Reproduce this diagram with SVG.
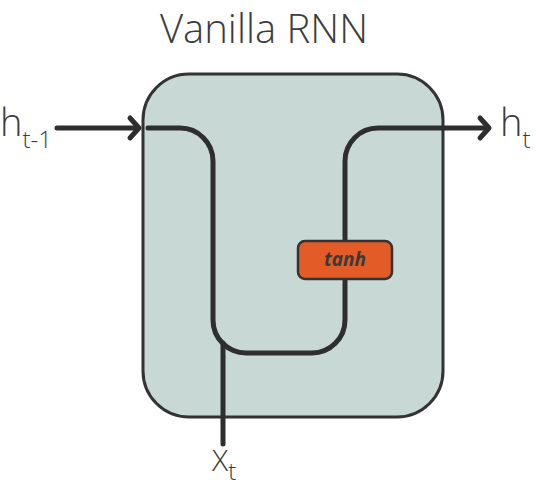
<svg xmlns="http://www.w3.org/2000/svg" width="536" height="489" viewBox="0 0 536 489">
<style>
.t{font-family:"Open Sans","Liberation Sans",sans-serif;font-weight:300;fill:#3c3c3c}
.ln{fill:none;stroke:#2e2e2e;stroke-width:5;stroke-linecap:round;stroke-linejoin:round}
</style>
<rect width="536" height="489" fill="#fff"/>
<text class="t" x="264" y="43" font-size="40" text-anchor="middle">Vanilla RNN</text>
<g id="cell">
<rect x="143" y="74" width="300" height="343" rx="46" ry="46" fill="#c8d9d5" stroke="#333" stroke-width="3"/>
</g>
<g id="connectors">
<line x1="57" y1="128" x2="136" y2="128" class="ln"/>
<path d="M130,118 L139,128 L130,138" class="ln"/>
<path d="M148,128 H180 A33,33 0 0 1 213,161 V320 A33,33 0 0 0 246,353 H312 A33,33 0 0 0 345,320 V161 A33,33 0 0 1 378,128 H486" class="ln"/>
<path d="M480,118 L489,128 L480,138" class="ln"/>
<path d="M223,343 V444" class="ln" stroke-width="4"/>
</g>
<g id="tanh">
<rect x="298" y="241" width="94" height="38" rx="7" fill="#e35b26" stroke="#333" stroke-width="2.5"/>
<text x="345" y="266" font-family="'Open Sans','Liberation Sans',sans-serif" font-size="19" font-style="italic" font-weight="700" fill="#3a3a3a" text-anchor="middle">tanh</text>
</g>
<g id="h_prev">
<text class="t" x="0" y="136" font-size="38">h<tspan font-size="24" dy="12">t-1</tspan></text>
</g>
<g id="h_t">
<text class="t" x="500" y="136" font-size="38">h<tspan font-size="24" dy="12">t</tspan></text>
</g>
<g id="x_t">
<text class="t" x="212" y="471" font-size="30">X<tspan font-size="24" dy="9">t</tspan></text>
</g>
</svg>
